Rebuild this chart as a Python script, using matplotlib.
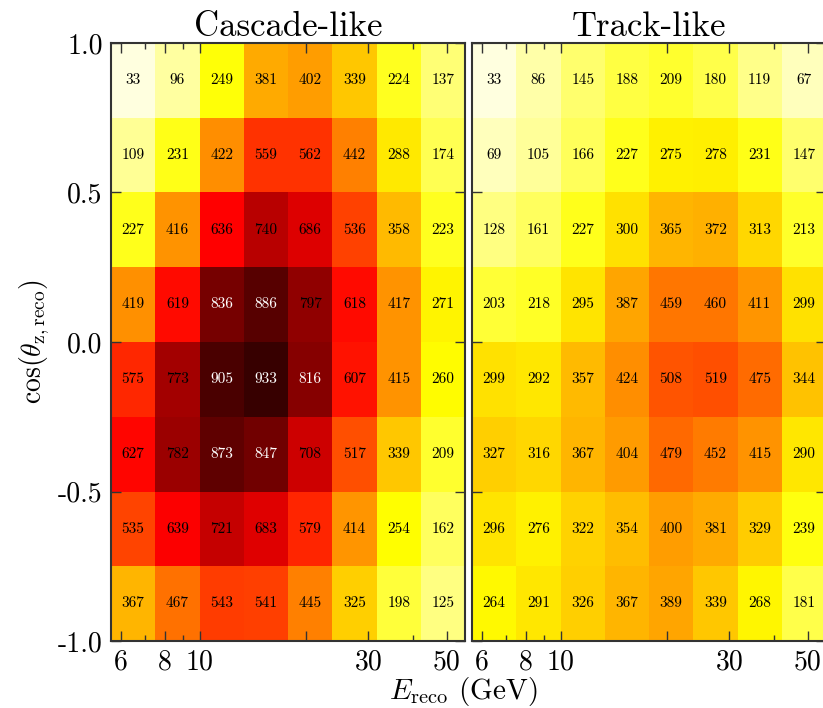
import numpy as np
import matplotlib
matplotlib.use("Agg")
import matplotlib.pyplot as plt
from matplotlib.ticker import FixedLocator, FixedFormatter, NullFormatter

plt.rcParams["font.family"] = "cmr10"
plt.rcParams["mathtext.fontset"] = "cm"
plt.rcParams["axes.unicode_minus"] = False
plt.rcParams["axes.formatter.use_mathtext"] = True

# ── binning ────────────────────────────────────────────────────────────────────
e_edges = [5.62, 7.50, 10.0, 13.34, 17.78, 23.71, 31.62, 42.17, 56.23]   # GeV
cz_edges = [-1.0, -0.75, -0.5, -0.25, 0.0, 0.25, 0.5, 0.75, 1.0]

# ── event counts, rows listed from cos = 1 (top) down to cos = -1 (bottom) ─────
cascade = [
    [33, 96, 249, 381, 402, 339, 224, 137],
    [109, 231, 422, 559, 562, 442, 288, 174],
    [227, 416, 636, 740, 686, 536, 358, 223],
    [419, 619, 836, 886, 797, 618, 417, 271],
    [575, 773, 905, 933, 816, 607, 415, 260],
    [627, 782, 873, 847, 708, 517, 339, 209],
    [535, 639, 721, 683, 579, 414, 254, 162],
    [367, 467, 543, 541, 445, 325, 198, 125],
]
track = [
    [33, 86, 145, 188, 209, 180, 119, 67],
    [69, 105, 166, 227, 275, 278, 231, 147],
    [128, 161, 227, 300, 365, 372, 313, 213],
    [203, 218, 295, 387, 459, 460, 411, 299],
    [299, 292, 357, 424, 508, 519, 475, 344],
    [327, 316, 367, 404, 479, 452, 415, 290],
    [296, 276, 322, 354, 400, 381, 329, 239],
    [264, 291, 326, 367, 389, 339, 268, 181],
]
titles = ["Cascade-like", "Track-like"]

x_major = [6, 8, 10, 20, 30, 50]
x_major_labels = ["6", "8", "10", "", "30", "50"]
x_minor = [7, 9, 40]
y_ticks = [-1.0, -0.5, 0.0, 0.5, 1.0]
y_labels = ["-1.0", "-0.5", "0.0", "0.5", "1.0"]

VMIN, VMAX = 0, 1000

fig = plt.figure(figsize=(8.23, 7.08), dpi=100)
ax_w, ax_h = 354 / 823, 598 / 708
ax_y = 67 / 708
axes = [fig.add_axes([111 / 823, ax_y, ax_w, ax_h]),
        fig.add_axes([472 / 823, ax_y, ax_w, ax_h])]

e = np.array(e_edges)
cz = np.array(cz_edges)
e_mid = np.sqrt(e[:-1] * e[1:])
cz_mid = 0.5 * (cz[:-1] + cz[1:])

for ax, counts, title in zip(axes, [cascade, track], titles):
    z = np.flipud(np.array(counts))          # row 0 -> cos = -1
    ax.pcolormesh(e, cz, z, cmap="hot_r", vmin=VMIN, vmax=VMAX)
    for i, c in enumerate(cz_mid):
        for j, en in enumerate(e_mid):
            v = z[i, j]
            ax.text(en, c, f"{v}", ha="center", va="center", fontsize=11,
                    color="white" if v > 800 else "black")

    ax.set_xscale("log")
    ax.set_xlim(e[0], e[-1])
    ax.set_ylim(-1, 1)
    ax.xaxis.set_major_locator(FixedLocator(x_major))
    ax.xaxis.set_major_formatter(FixedFormatter(x_major_labels))
    ax.xaxis.set_minor_locator(FixedLocator(x_minor))
    ax.xaxis.set_minor_formatter(NullFormatter())
    ax.set_yticks(y_ticks)
    ax.tick_params(which="both", direction="in", top=True, right=True,
                   labelsize=20, width=1.0, color="#333333")
    ax.tick_params(which="major", length=7, pad=6)
    ax.tick_params(which="minor", length=4)
    for s in ax.spines.values():
        s.set_linewidth(1.5)
        s.set_color("#333333")
    ax.set_title(title, fontsize=25, pad=5)

axes[0].set_yticklabels(y_labels)
axes[1].set_yticklabels([])
axes[0].set_ylabel(r"$\cos(\theta_{\rm z,reco})$", fontsize=20, labelpad=4)
fig.text(0.563, 0.024, r"$E_{\rm reco}$ (GeV)", ha="center", va="center",
         fontsize=21)

fig.savefig("out.png", dpi=100)
